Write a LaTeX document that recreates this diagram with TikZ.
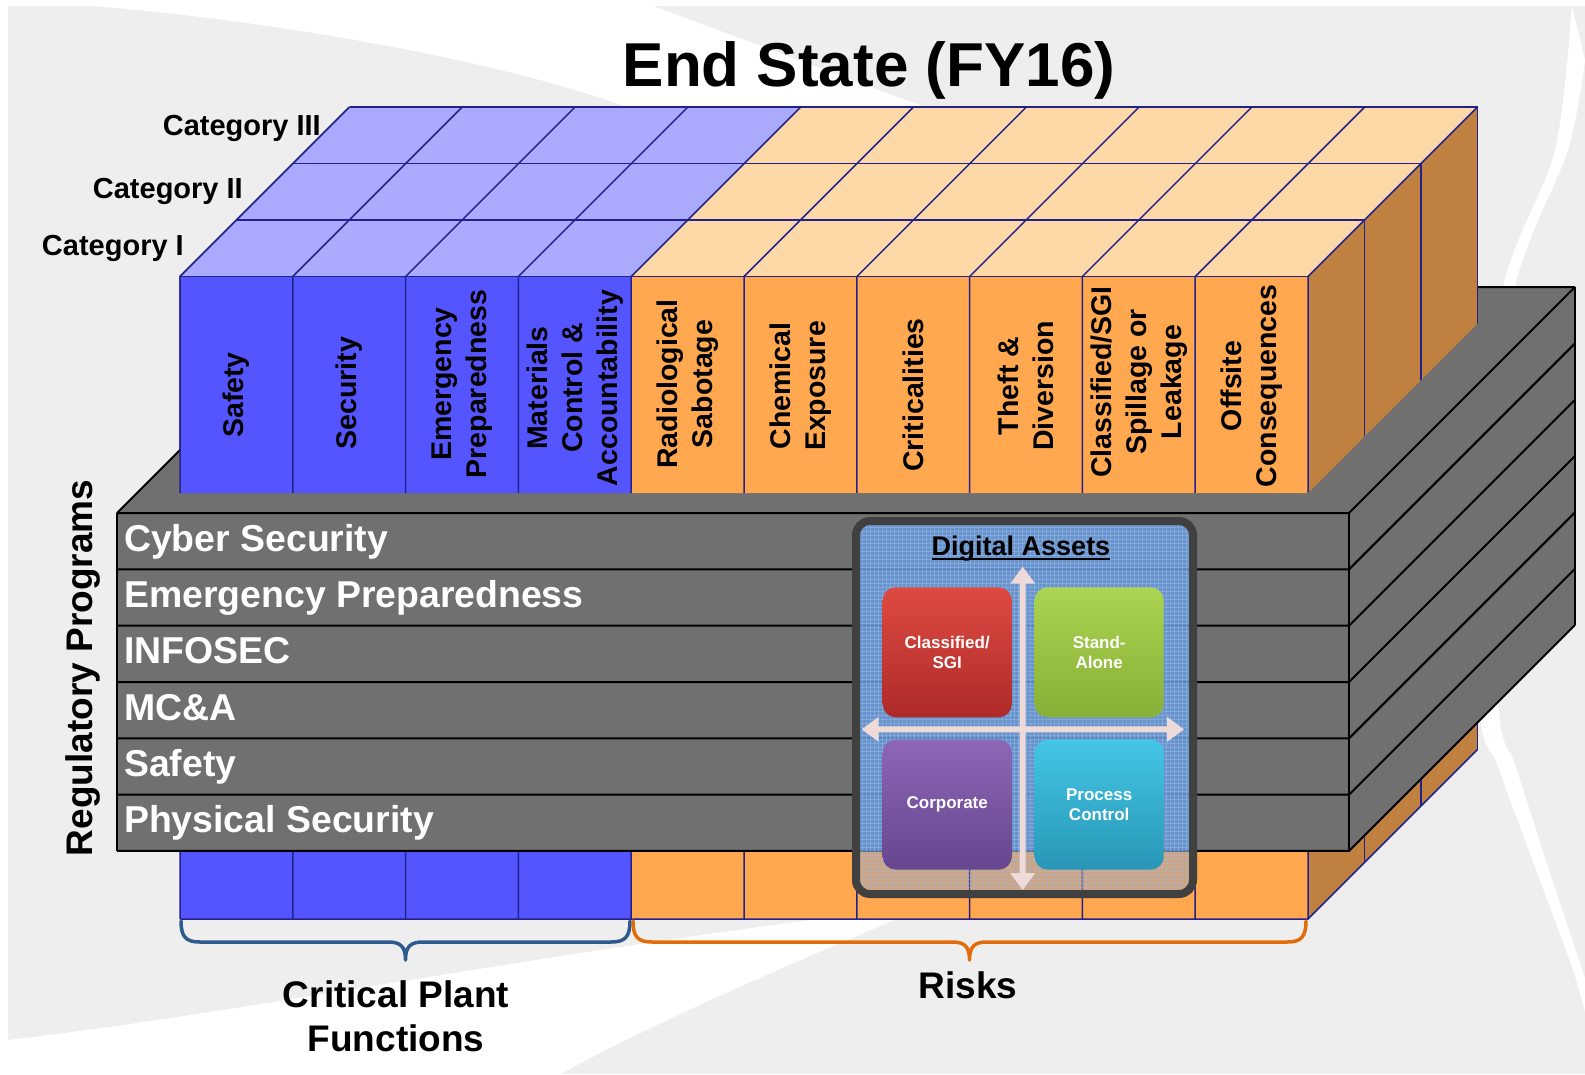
\documentclass[tikz,border=0pt]{standalone}
\usepackage{fontspec}
\setmainfont{Liberation Sans}
\usetikzlibrary{calc}
\definecolor{bgray}{HTML}{EEEEEE}
\definecolor{fblue}{HTML}{5555FF}
\definecolor{tblue}{HTML}{AAAAFF}
\definecolor{forange}{HTML}{FFA850}
\definecolor{torange}{HTML}{FFD8A8}
\definecolor{sorange}{HTML}{BF8040}
\definecolor{navy}{HTML}{22228C}
\definecolor{slabgray}{HTML}{707070}
\definecolor{boxborder}{HTML}{404040}
\definecolor{dablue}{HTML}{6A9ADC}
\definecolor{meshblue}{HTML}{96BEEE}
\definecolor{arrowpink}{HTML}{EFDADA}
\definecolor{braceblue}{HTML}{2E5A8E}
\definecolor{braceorange}{HTML}{E36C0A}
\definecolor{redtop}{HTML}{DE4A42}
\definecolor{redbot}{HTML}{AE2A28}
\definecolor{greentop}{HTML}{ACD452}
\definecolor{greenbot}{HTML}{86B036}
\definecolor{purptop}{HTML}{8E66B6}
\definecolor{purpbot}{HTML}{66468E}
\definecolor{tealtop}{HTML}{44C6E6}
\definecolor{tealbot}{HTML}{2896B6}
\tikzset{
  gridline/.style={draw=navy, line width=1.5pt},
  slabline/.style={draw=black, line width=2pt},
  collabel/.style={font=\fontsize{28.5}{35}\selectfont\bfseries, rotate=90, align=center, inner sep=0pt},
  catlabel/.style={font=\fontsize{29}{34}\selectfont\bfseries, inner sep=0pt, anchor=base east},
  rowtext/.style={font=\fontsize{37.4}{44}\selectfont\bfseries, text=white, inner sep=0pt, anchor=base west},
  biglabel/.style={font=\fontsize{37}{44.5}\selectfont\bfseries, align=center, inner sep=0pt},
  quad/.style={rounded corners=13pt, minimum width=129pt, minimum height=130pt, inner sep=0pt,
     font=\fontsize{17}{19.5}\selectfont\bfseries, text=white, align=center},
  bracepath/.style={line width=3.5pt, line cap=round, line join=round},
  meshline/.style={draw=meshblue, line width=0.9pt, opacity=0.45}
}
\newcommand\CubeBody{%
  \fill[fblue] (180,276.5) rectangle (631.2,919);
  \fill[forange] (631.2,276.5) rectangle (1308,919);
  \fill[sorange] (1308,276.5) -- (1477.5,107) -- (1477.5,749.5) -- (1308,919) -- cycle;
  \fill[tblue] (180,276.5) -- (631.2,276.5) -- (800.7,107) -- (349.5,107) -- cycle;
  \fill[torange] (631.2,276.5) -- (1308,276.5) -- (1477.5,107) -- (800.7,107) -- cycle;
  \foreach \i in {0,...,10}{\draw[gridline] (180+\i*112.8,919) -- (180+\i*112.8,276.5) -- ++(169.5,-169.5);}
  \foreach \k in {0,...,3}{\draw[gridline] (180+\k*56.5,276.5-\k*56.5) -- (1308+\k*56.5,276.5-\k*56.5);}
  \foreach \k in {1,2,3}{\draw[gridline] (1308+\k*56.5,276.5-\k*56.5) -- (1308+\k*56.5,919-\k*56.5);}
  \draw[gridline] (180,919) -- (1308,919) -- (1477.5,749.5);
}
\begin{document}
\begin{tikzpicture}[x=1pt,y=-1pt]
\useasboundingbox (0,0) rectangle (1585,1074);
% background
\fill[white] (0,0) rectangle (1585,1074);
\fill[bgray] (8,6) rectangle (1585,1074);
\fill[white] (92,6) .. controls (250,18) and (520,60) .. (660,120) -- (960,120) -- (653,6) -- cycle;
\fill[white] (8,1040) .. controls (250,1012) and (550,950) .. (930,905) .. controls (800,960) and (680,1010) .. (560,1074) -- (8,1074) -- cycle;
\fill[white] plot[smooth] coordinates {(1572,6) (1555,150) (1503,287) (1478,500) (1480,713) (1498,767) (1535,867) (1572,967) (1585,1012)}
  -- plot[smooth] coordinates {(1585,978) (1548,867) (1516,767) (1499,713) (1493,500) (1515,287) (1568,150) (1585,60)} -- cycle;

% cube (full)
\CubeBody

% slab of regulatory programs
\fill[slabgray] (117,513) -- (343,287) -- (1575,287) -- (1349,513) -- cycle;
\draw[slabline] (117,513) -- (343,287) -- (1575,287);
\fill[slabgray] (1349,513) -- (1575,287) -- (1575,625) -- (1349,851) -- cycle;
\fill[slabgray] (117,513) rectangle (1349,851);
\foreach \r in {0,...,6}{\draw[slabline] (117,513+\r*56.33) -- (1349,513+\r*56.33) -- ++(226,-226);}
\draw[slabline] (117,513) -- (117,851);
\draw[slabline] (1349,513) -- (1349,851);
\draw[slabline] (1575,287) -- (1575,625);
\foreach \t [count=\n from 0] in {Cyber Security, Emergency Preparedness, INFOSEC, {MC\&A}, Safety, Physical Security}
  {\node[rowtext] (row\n) at (124,551+\n*56.33) {\t};}

% cube upper part (above the slab)
\begin{scope}
  \clip (100,493) -- (1308,493) -- (1477.5,323.5) -- (1492,323.5) -- (1492,0) -- (100,0) -- cycle;
  \CubeBody
\end{scope}

% column labels
\node[collabel] (c0) at (236.4,395) {Safety};
\node[collabel] (c1) at (349.2,393) {Security};
\node[collabel] (c2) at (462,384) {Emergency\\Preparedness};
\node[collabel] (c3) at (574.8,388) {Materials\\Control \&\\Accountability};
\node[collabel] (c4) at (687.6,384) {Radiological\\Sabotage};
\node[collabel] (c5) at (800.4,386) {Chemical\\Exposure};
\node[collabel] (c6) at (913.2,395) {Criticalities};
\node[collabel] (c7) at (1026,386) {Theft \&\\Diversion};
\node[collabel] (c8) at (1138.8,382) {Classified/SGI\\Spillage or\\Leakage};
\node[collabel] (c9) at (1251.6,386) {Offsite\\Consequences};

% category labels
\node[catlabel] (cat3) at (321,135) {Category III};
\node[catlabel] (cat2) at (243,198) {Category II};
\node[catlabel] (cat1) at (184,255) {Category I};

% regulatory programs
\node[font=\fontsize{37}{44}\selectfont\bfseries, rotate=90, inner sep=0pt] (regprog) at (83,668) {Regulatory Programs};

% digital assets box
\begin{scope}
  \clip[rounded corners=14pt] (856,521) rectangle (1193,894);
  \fill[dablue, opacity=0.85] (850,515) rectangle (1200,851);
  \fill[dablue, opacity=0.3] (850,851) rectangle (1200,900);
  \foreach \g in {858,862,...,1194}{\draw[meshline] (\g,515) -- (\g,900);}
  \foreach \g in {523,527,...,895}{\draw[meshline] (850,\g) -- (1200,\g);}
\end{scope}
\draw[boxborder, line width=8pt, rounded corners=14pt] (856,521) rectangle (1193,894);
\node[font=\fontsize{27}{30}\selectfont\bfseries, inner sep=0pt, anchor=base] (datitle) at (1021,555) {Digital Assets};
\draw[line width=2pt] ([yshift=-4pt]datitle.base west) -- ([yshift=-4pt]datitle.base east);
\node[quad, top color=redtop, bottom color=redbot] (qred) at (947.2,652.3) {Classified/\\SGI};
\node[quad, top color=greentop, bottom color=greenbot] (qgreen) at (1099.2,652.3) {Stand-\\Alone};
\node[quad, top color=purptop, bottom color=purpbot] (qpurple) at (947.2,804.6) {Corporate};
\node[quad, top color=tealtop, bottom color=tealbot] (qteal) at (1099.2,804.6) {Process\\Control};
\fill[arrowpink] (1022.7,566.7) -- (1035.2,583.7) -- (1025.7,583.7) -- (1025.7,873) -- (1035.2,873) -- (1022.7,890)
  -- (1010.2,873) -- (1019.7,873) -- (1019.7,583.7) -- (1010.2,583.7) -- cycle;
\fill[arrowpink] (861.7,729.3) -- (878.7,716.8) -- (878.7,726.3) -- (1167,726.3) -- (1167,716.8) -- (1184,729.3)
  -- (1167,741.8) -- (1167,732.3) -- (878.7,732.3) -- (878.7,741.8) -- cycle;

% braces
\draw[bracepath, braceblue] (181,921) .. controls (181,937) and (186,942) .. (200,942) -- (388,942)
  .. controls (400,942) and (405.5,946) .. (405.5,960) .. controls (405.5,946) and (411,942) .. (423,942)
  -- (611,942) .. controls (625,942) and (630,937) .. (630,921);
\draw[bracepath, braceorange] (633,921) .. controls (633,937) and (638,942) .. (652,942) -- (952,942)
  .. controls (964,942) and (969.5,946) .. (969.5,960) .. controls (969.5,946) and (975,942) .. (987,942)
  -- (1287,942) .. controls (1301,942) and (1306,937) .. (1306,921);

% bottom labels and title
\node[biglabel, anchor=north] (cpf) at (396,980) {Critical Plant\\Functions};
\node[biglabel, anchor=base] (risks) at (968,998) {Risks};
\node[font=\fontsize{62}{70}\selectfont\bfseries, inner sep=0pt, anchor=base] (title) at (869,86) {End State (FY16)};
\end{tikzpicture}
\end{document}
